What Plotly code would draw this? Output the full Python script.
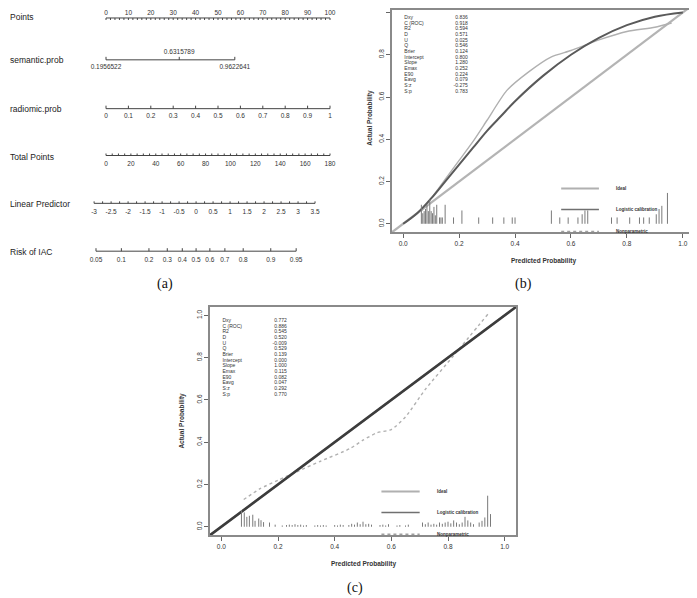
import math
import plotly.graph_objects as go

W, H = 697, 598
OFF = 8                      # page body margin; the figure starts 8 px in
FW, FH = W - OFF, H - OFF

# ---------------- (a) nomogram scales ----------------
points_labels = list(range(0, 101, 10))
points_minor = list(range(0, 101, 2))
semantic_ticks = [0.1956522, 0.6315789, 0.9622641]
semantic_max_points = 57.5
radiomic_ticks = [0, 0.1, 0.2, 0.3, 0.4, 0.5, 0.6, 0.7, 0.8, 0.9, 1]
total_labels = list(range(0, 181, 20))
total_minor = list(range(0, 181, 5))
total_max = 180
lp_labels = [-3, -2.5, -2, -1.5, -1, -0.5, 0, 0.5, 1, 1.5, 2, 2.5, 3, 3.5]
lp_minor = [v / 4 for v in range(-12, 15)]
lp_at_total0, lp_at_total180 = -2.65, 3.94
risk_ticks = [0.05, 0.1, 0.2, 0.3, 0.4, 0.5, 0.6, 0.7, 0.8, 0.9, 0.95]

# ---------------- (b) training calibration ----------------
stat_names = ["Dxy", "C (ROC)", "R2", "D", "U", "Q", "Brier", "Intercept",
              "Slope", "Emax", "E90", "Eavg", "S:z", "S:p"]
stats_b = ["0.836", "0.918", "0.594", "0.571", "0.025", "0.546", "0.124",
           "0.800", "1.280", "0.252", "0.224", "0.079", "-0.275", "0.783"]
logit_b_x = [0.0, 0.05, 0.1, 0.15, 0.2, 0.25, 0.3, 0.35, 0.4, 0.5, 0.6, 0.7, 0.8, 0.9, 1.0]
logit_b_y = [0.0, 0.05, 0.12, 0.20, 0.28, 0.36, 0.44, 0.51, 0.58, 0.70, 0.80, 0.88, 0.94, 0.98, 1.0]
np_b_x = [0.065, 0.1, 0.15, 0.2, 0.25, 0.3, 0.37, 0.45, 0.53, 0.6, 0.7, 0.8, 0.9, 0.96]
np_b_y = [0.06, 0.12, 0.21, 0.30, 0.39, 0.49, 0.63, 0.72, 0.79, 0.82, 0.87, 0.91, 0.93, 0.95]
spike_b_x = [0.065, 0.07, 0.075, 0.08, 0.085, 0.09, 0.095, 0.10, 0.105, 0.11, 0.115, 0.12,
             0.13, 0.135, 0.14, 0.15, 0.18, 0.21, 0.27, 0.32, 0.36, 0.39, 0.40, 0.53, 0.56,
             0.59, 0.625, 0.64, 0.65, 0.66, 0.745, 0.765, 0.81, 0.845, 0.86, 0.88, 0.905,
             0.915, 0.925, 0.945]
spike_b_h = [0.09, 0.05, 0.06, 0.07, 0.09, 0.06, 0.115, 0.06, 0.05, 0.08, 0.04, 0.09,
             0.03, 0.03, 0.03, 0.09, 0.03, 0.063, 0.03, 0.03, 0.03, 0.03, 0.03, 0.063, 0.03,
             0.03, 0.03, 0.045, 0.063, 0.063, 0.03, 0.03, 0.03, 0.03, 0.03, 0.03, 0.045,
             0.07, 0.085, 0.146]

# ---------------- (c) validation calibration ----------------
stats_c = ["0.772", "0.886", "0.545", "0.520", "-0.009", "0.529", "0.139",
           "0.000", "1.000", "0.115", "0.082", "0.047", "0.292", "0.770"]
ideal_xy = [-0.04, 1.04]
logit_c_xy = [-0.04, 1.04]
np_c_x = [0.079, 0.137, 0.2, 0.266, 0.35, 0.454, 0.50, 0.55, 0.60, 0.65, 0.72, 0.82, 0.947]
np_c_y = [0.129, 0.18, 0.22, 0.26, 0.31, 0.37, 0.41, 0.445, 0.46, 0.52, 0.65, 0.81, 1.016]
spike_c_x = [0.071, 0.081, 0.09, 0.099, 0.111, 0.119, 0.132, 0.14, 0.149, 0.17, 0.19,
             0.215, 0.23, 0.24, 0.25, 0.26, 0.27, 0.28, 0.29, 0.30, 0.33, 0.34, 0.35, 0.36,
             0.37, 0.40, 0.41, 0.42, 0.43, 0.45, 0.46, 0.47, 0.48, 0.49, 0.50, 0.51, 0.52,
             0.53, 0.56, 0.57, 0.58, 0.59, 0.62, 0.63, 0.65, 0.66, 0.71, 0.72, 0.73, 0.74,
             0.75, 0.76, 0.77, 0.78, 0.79, 0.80, 0.81, 0.82, 0.83, 0.84, 0.85, 0.86, 0.87,
             0.88, 0.89, 0.91, 0.92, 0.93, 0.94, 0.95]
spike_c_h = [0.079, 0.068, 0.047, 0.052, 0.057, 0.028, 0.039, 0.031, 0.022, 0.02, 0.01,
             0.006, 0.008, 0.01, 0.008, 0.012, 0.008, 0.01, 0.006, 0.008, 0.006, 0.008, 0.006,
             0.008, 0.006, 0.008, 0.006, 0.01, 0.008, 0.008, 0.014, 0.01, 0.02, 0.012, 0.024,
             0.012, 0.014, 0.01, 0.008, 0.01, 0.006, 0.012, 0.006, 0.008, 0.006, 0.01, 0.02,
             0.012, 0.02, 0.01, 0.014, 0.01, 0.02, 0.014, 0.02, 0.024, 0.016, 0.03, 0.02,
             0.012, 0.02, 0.047, 0.03, 0.02, 0.012, 0.02, 0.028, 0.044, 0.147, 0.06]

FONT = "Liberation Sans"
fig = go.Figure()


def px(x):
    return (x - OFF) / FW


def py(y):
    return 1 - (y - OFF) / FH


# ---- (a) helpers: everything mapped onto the Points scale ----
def sem_pts(v):
    return (v - semantic_ticks[0]) / (semantic_ticks[-1] - semantic_ticks[0]) * semantic_max_points


def tot_pts(v):
    return v * 100 / total_max


def lp_pts(v):
    return tot_pts((v - lp_at_total0) / (lp_at_total180 - lp_at_total0) * total_max)


def risk_pts(p):
    return lp_pts(math.log(p / (1 - p)))


def nomo_row(xs_line, ticks, row_y, tick_len, labels, label_y):
    lx, ly = [xs_line[0], xs_line[1], None], [row_y, row_y, None]
    for t in ticks:
        lx += [t, t, None]
        ly += [row_y, row_y + tick_len, None]
    fig.add_trace(go.Scatter(x=lx, y=ly, mode="lines", xaxis="x", yaxis="y",
                             line=dict(color="#444", width=1), hoverinfo="skip",
                             showlegend=False))
    fig.add_trace(go.Scatter(x=[p for p, _ in labels], y=[label_y] * len(labels),
                             text=[t for _, t in labels], mode="text", xaxis="x", yaxis="y",
                             textfont=dict(family=FONT, size=6.5, color="#333"),
                             hoverinfo="skip", showlegend=False))


def fmt(v):
    return "%g" % v


rows = [("Points", 15), ("semantic.prob", 58), ("radiomic.prob", 107),
        ("Total Points", 155), ("Linear Predictor", 203), ("Risk of IAC", 251)]

nomo_row([0, 100], points_minor, 16, 2, [(v, fmt(v)) for v in points_labels], 11.5)
sp = [sem_pts(v) for v in semantic_ticks]
fig.add_trace(go.Scatter(x=[sp[0], sp[-1], None] + sum([[p, p, None] for p in sp], []),
                         y=[58, 58, None] + [58, 55, None] * len(sp), mode="lines",
                         xaxis="x", yaxis="y", line=dict(color="#444", width=1),
                         hoverinfo="skip", showlegend=False))
fig.add_trace(go.Scatter(x=sp, y=[66, 51, 66], text=["%.7f" % v for v in semantic_ticks],
                         mode="text", xaxis="x", yaxis="y",
                         textfont=dict(family=FONT, size=6.5, color="#333"),
                         hoverinfo="skip", showlegend=False))
nomo_row([0, 100], [v * 100 for v in radiomic_ticks], 107, -3,
         [(v * 100, fmt(v)) for v in radiomic_ticks], 115)
nomo_row([0, 100], [tot_pts(v) for v in total_minor], 154, -2,
         [(tot_pts(v), fmt(v)) for v in total_labels], 163)
nomo_row([lp_pts(lp_labels[0]), lp_pts(lp_labels[-1])], [lp_pts(v) for v in lp_minor], 202, -2,
         [(lp_pts(v), fmt(v)) for v in lp_labels], 211)
nomo_row([risk_pts(risk_ticks[0]), risk_pts(risk_ticks[-1])], [risk_pts(v) for v in risk_ticks],
         250, -3, [(risk_pts(v), fmt(v)) for v in risk_ticks], 259)

annotations = []
for name, yy in rows:
    annotations.append(dict(text=name, xref="paper", yref="paper", x=0, y=py(yy),
                            xanchor="left", yanchor="middle", showarrow=False,
                            font=dict(family=FONT, size=8.5, color="#222")))


# ---- (b), (c) calibration panels ----
def spikes(xs, hs):
    sx, sy = [], []
    for x, h in zip(xs, hs):
        sx += [x, x, None]
        sy += [0, h, None]
    return sx, sy


def calib_panel(ax, stats, ideal, logit_x, logit_y, logit_w, logit_c, np_x, np_y, np_dash,
                sx, sh):
    xa, ya = "x" + ax, "y" + ax
    fig.add_trace(go.Scatter(x=ideal, y=ideal, mode="lines", xaxis=xa, yaxis=ya,
                             line=dict(color="#b4b4b4", width=2.2), hoverinfo="skip",
                             showlegend=False))
    fig.add_trace(go.Scatter(x=np_x, y=np_y, mode="lines", xaxis=xa, yaxis=ya,
                             line=dict(color="#b0b0b0", width=1.4, dash=np_dash,
                                       shape="spline", smoothing=0.6),
                             hoverinfo="skip", showlegend=False))
    fig.add_trace(go.Scatter(x=logit_x, y=logit_y, mode="lines", xaxis=xa, yaxis=ya,
                             line=dict(color=logit_c, width=logit_w, shape="spline"),
                             hoverinfo="skip", showlegend=False))
    px_, py_ = spikes(sx, sh)
    fig.add_trace(go.Scatter(x=px_, y=py_, mode="lines", xaxis=xa, yaxis=ya,
                             line=dict(color="#7a7a7a", width=1), hoverinfo="skip",
                             showlegend=False))
    n = len(stat_names)
    ys = [0.975 - i * 0.0268 for i in range(n)]
    fig.add_trace(go.Scatter(x=[0.004] * n, y=ys, text=stat_names, mode="text",
                             textposition="middle right", xaxis=xa, yaxis=ya,
                             textfont=dict(family=FONT, size=5, color="#333"),
                             hoverinfo="skip", showlegend=False))
    fig.add_trace(go.Scatter(x=[0.231] * n, y=ys, text=stats, mode="text",
                             textposition="middle left", xaxis=xa, yaxis=ya,
                             textfont=dict(family=FONT, size=5, color="#333"),
                             hoverinfo="skip", showlegend=False))
    for yy, col, w, dash, lab in [(0.167, "#b0b0b0", 2, "solid", "Ideal"),
                                  (0.068, "#707070", 1.5, "solid", "Logistic calibration"),
                                  (-0.036, "#a0a0a0", 1.5, "dot", "Nonparametric")]:
        shapes.append(dict(type="line", xref=xa, yref=ya, x0=0.565, x1=0.70, y0=yy, y1=yy,
                           line=dict(color=col, width=w, dash=dash)))
        annotations.append(dict(text="<b>%s</b>" % lab, xref=xa, yref=ya, x=0.755, y=yy,
                                xanchor="left", yanchor="middle", showarrow=False,
                                font=dict(family=FONT, size=4.5, color="#333")))


shapes = []
calib_panel("2", stats_b, ideal_xy, logit_b_x, logit_b_y, 2, "#5a5a5a", np_b_x, np_b_y, "solid",
            spike_b_x, spike_b_h)
calib_panel("3", stats_c, ideal_xy, logit_c_xy, logit_c_xy, 2.6, "#3c3c3c", np_c_x, np_c_y, "dot",
            spike_c_x, spike_c_h)

for x, y, t, ang in [(370, 116, "Actual Probability", -90), (543, 260, "Predicted Probability", 0),
                     (182, 420, "Actual Probability", -90), (363, 564, "Predicted Probability", 0)]:
    annotations.append(dict(text="<b>%s</b>" % t, xref="paper", yref="paper", x=px(x), y=py(y),
                            xanchor="center", yanchor="middle", showarrow=False, textangle=ang,
                            font=dict(family=FONT, size=6.5, color="#333")))
for x, y, t in [(165, 283, "(a)"), (523, 283, "(b)"), (355, 588, "(c)")]:
    annotations.append(dict(text=t, xref="paper", yref="paper", x=px(x), y=py(y),
                            xanchor="center", yanchor="middle", showarrow=False,
                            font=dict(family="Liberation Serif", size=14, color="#111")))

prob_ticks = [0.0, 0.2, 0.4, 0.6, 0.8, 1.0]
prob_text = ["%.1f" % v for v in prob_ticks]
axis_common = dict(showgrid=False, zeroline=False, showline=True,
                   mirror=True, linecolor="#8a8a8a", linewidth=1.5, ticks="outside",
                   ticklen=4, tickcolor="#666", tickvals=prob_ticks, ticktext=prob_text,
                   tickfont=dict(family=FONT, size=6.5, color="#333"))
full = [-0.04, 1.04]
# panel (b) top edge sits 6 px above the page's drawable area: trim the range, keep the scale
b_top = 1.04 - (OFF - 2) * 1.08 / (231 - 2)

fig.update_layout(
    width=FW, height=FH, margin=dict(l=0, r=0, t=0, b=0),
    paper_bgcolor="white", plot_bgcolor="rgba(0,0,0,0)",
    xaxis=dict(domain=[0, px(340)], range=[(OFF - 106) / 2.24, (340 - 106) / 2.24],
               visible=False),
    yaxis=dict(domain=[0, 1], range=[H, OFF], visible=False),
    xaxis2=dict(domain=[px(392), px(694)], anchor="y2", range=full, **axis_common),
    yaxis2=dict(domain=[py(231), 1], anchor="x2", tickangle=-90, range=[-0.04, b_top],
                **axis_common),
    xaxis3=dict(domain=[px(210), px(516)], anchor="y3", range=full, **axis_common),
    yaxis3=dict(domain=[py(535), py(306)], anchor="x3", tickangle=-90, range=full,
                **axis_common),
    shapes=shapes, annotations=annotations,
)

fig.write_html("out.html")
